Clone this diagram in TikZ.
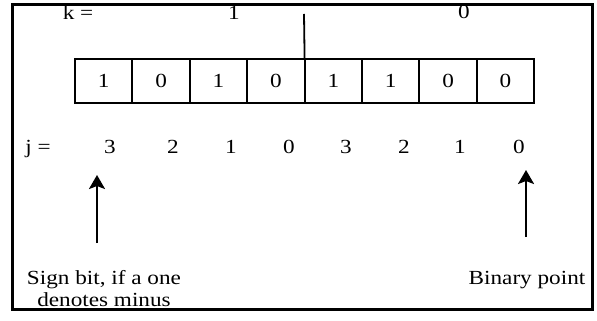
\documentclass[tikz,border=0pt]{standalone}
\usepackage{fontspec}
\setmainfont{Liberation Serif}[FakeStretch=1.16]
\usetikzlibrary{positioning, arrows.meta}

\begin{document}
\begin{tikzpicture}[
  x=0.5pt, y=-0.5pt,
  every node/.style={font=\fontsize{10}{11}\selectfont, inner sep=0pt, outer sep=0pt},
  bit/.style={draw, line width=1pt, minimum width=28.7pt, minimum height=22pt},
  lbl/.style={anchor=base},
  arr/.style={-{Stealth[length=7pt, width=8pt, inset=1.5pt]}, line width=1.2pt},
  frame/.style={line width=1.5pt}
]
  \useasboundingbox (0,0) rectangle (597,320);
  \draw[frame] (12,5) rectangle (592,309);

  % Top: k values
  \node[lbl] (keq) at (78,20) {k =};
  \node[lbl] (khi) at (234,20) {1};
  \node[lbl] (klo) at (464,19) {0};

  % Register cells
  \node[bit] (b1) at (103.7,81) {1};
  \node[bit, right=0pt of b1] (b2) {0};
  \node[bit, right=0pt of b2] (b3) {1};
  \node[bit, right=0pt of b3] (b4) {0};
  \node[bit, right=0pt of b4] (b5) {1};
  \node[bit, right=0pt of b5] (b6) {1};
  \node[bit, right=0pt of b6] (b7) {0};
  \node[bit, right=0pt of b7] (b8) {0};

  % Divider between the two halves
  \coordinate (ktop) at (304,14);
  \draw[line width=0.9pt] (b5.north west) -- (ktop);

  % Bottom: j values
  \node[lbl] (jeq) at (38,153) {j =};
  \node[lbl] (ja3) at (110,153) {3};
  \node[lbl] (ja2) at (173,153) {2};
  \node[lbl] (ja1) at (231,153) {1};
  \node[lbl] (ja0) at (289,153) {0};
  \node[lbl] (jb3) at (346,153) {3};
  \node[lbl] (jb2) at (404,153) {2};
  \node[lbl] (jb1) at (460,153) {1};
  \node[lbl] (jb0) at (519,153) {0};

  % Notes
  \node[align=center] (sign) at (104,289) {Sign bit, if a one\\denotes minus};
  \node[lbl] (bpoint) at (527,284) {Binary point};

  % Pointers
  \coordinate (signtail) at (97,243);
  \coordinate (signhead) at (97,175);
  \coordinate (bptail) at (526,237);
  \coordinate (bphead) at (526,170);
  \draw[arr] (signtail) -- (signhead);
  \draw[arr] (bptail) -- (bphead);
\end{tikzpicture}
\end{document}
